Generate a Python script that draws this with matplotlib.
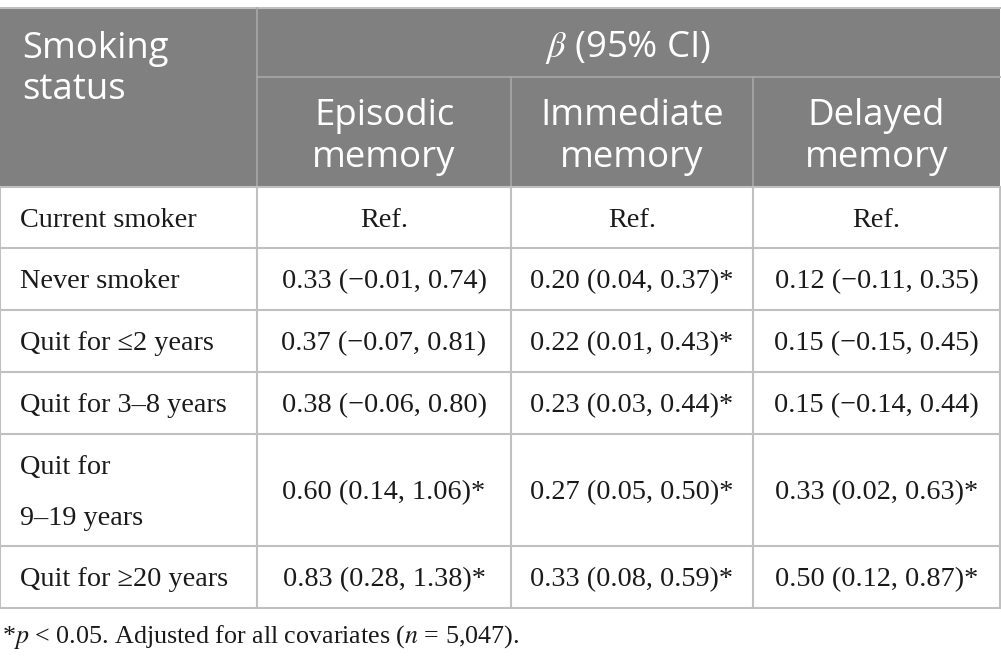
import matplotlib.pyplot as plt
from matplotlib.patches import Rectangle

plt.rcParams['mathtext.fontset'] = 'stix'

# table content
group_header = r"$\beta$ (95% CI)"
first_header = "Smoking\nstatus"
col_headers = ["Episodic\nmemory", "Immediate\nmemory", "Delayed\nmemory"]
row_labels = ["Current smoker", "Never smoker", "Quit for \u22642 years",
              "Quit for 3\u20138 years", "Quit for\n9\u201319 years",
              "Quit for \u226520 years"]
episodic = ["Ref.", "0.33 (\u22120.01, 0.74)", "0.37 (\u22120.07, 0.81)",
            "0.38 (\u22120.06, 0.80)", "0.60 (0.14, 1.06)*", "0.83 (0.28, 1.38)*"]
immediate = ["Ref.", "0.20 (0.04, 0.37)*", "0.22 (0.01, 0.43)*",
             "0.23 (0.03, 0.44)*", "0.27 (0.05, 0.50)*", "0.33 (0.08, 0.59)*"]
delayed = ["Ref.", "0.12 (\u22120.11, 0.35)", "0.15 (\u22120.15, 0.45)",
           "0.15 (\u22120.14, 0.44)", "0.33 (0.02, 0.63)*", "0.50 (0.12, 0.87)*"]
footnote = r"*$p$ < 0.05. Adjusted for all covariates ($n$ = 5,047)."

# layout in pixels
col_x = [0, 257, 511, 753, 1000]
row_y = [187, 248, 310, 372, 434, 546, 608]
top, mid = 8, 77

header_bg = "#7f807f"
grid = "#c0c0c0"

fig = plt.figure(figsize=(10.01, 6.67), dpi=100)
ax = fig.add_axes([0, 0, 1, 1])
ax.set_xlim(0, 1001)
ax.set_ylim(667, 0)
ax.axis("off")

# header background
ax.add_patch(Rectangle((0, top), 1000, row_y[0] - top, color=header_bg, lw=0))
ax.plot([0, 1000], [top, top], color=grid, lw=1.5)
ax.plot([col_x[1], 1000], [mid, mid], color="#a8a8a8", lw=1.2)
ax.plot([col_x[1], col_x[1]], [top, row_y[0]], color="#a8a8a8", lw=1.2)
for x in col_x[2:4]:
    ax.plot([x, x], [mid, row_y[0]], color="#a8a8a8", lw=1.2)

# body grid
for y in row_y:
    ax.plot([0, 1000], [y, y], color=grid, lw=1.5)
for x in col_x:
    ax.plot([x, x], [row_y[0], row_y[-1]], color=grid, lw=1.5)

hfont = dict(family="Open Sans", color="white", fontsize=26.3)
ax.text(22, 31, first_header, ha="left", va="top", linespacing=1.2, **hfont)
ax.text((col_x[1] + col_x[4]) / 2, 47, group_header, ha="center", va="center", **hfont)
for i, h in enumerate(col_headers):
    ax.text((col_x[i + 1] + col_x[i + 2]) / 2, 137, h, ha="center", va="center",
            linespacing=1.2, **hfont)

bfont = dict(family="Liberation Serif", color="#1a1a1a", fontsize=20.3)
for r, label in enumerate(row_labels):
    yc = (row_y[r] + row_y[r + 1]) / 2 + 3
    ax.text(20, yc, label, ha="left", va="center", linespacing=2.35, **bfont)
    for c, vals in enumerate([episodic, immediate, delayed]):
        ax.text((col_x[c + 1] + col_x[c + 2]) / 2, yc, vals[r],
                ha="center", va="center", **bfont)

ax.text(2, 637, footnote, ha="left", va="center", family="Liberation Serif",
        color="#1a1a1a", fontsize=18.7)

fig.savefig("out.png", dpi=100)
